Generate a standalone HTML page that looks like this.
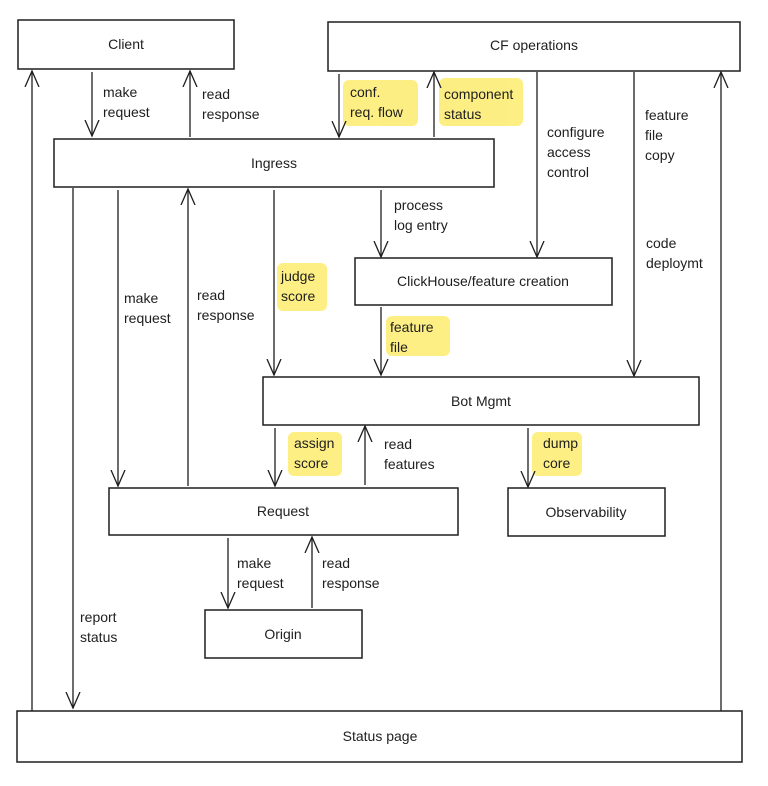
<!DOCTYPE html>
<html><head><meta charset="utf-8"><style>
html,body{margin:0;padding:0;background:#fff;}
svg{display:block;}
text{font-family:"Liberation Sans",sans-serif;font-size:14px;fill:#1e1e1e;}
</style></head><body>
<svg width="768" height="786" viewBox="0 0 768 786" xmlns="http://www.w3.org/2000/svg">
<defs>
<marker id="a" markerWidth="20" markerHeight="20" refX="16" refY="10" orient="auto" markerUnits="userSpaceOnUse">
<path d="M0,3 L16,10 L0,17" fill="none" stroke="#1e1e1e" stroke-width="1.3"/>
</marker>
</defs>
<g fill="#fdec6f" opacity="0.85">
<rect x="343" y="80" width="75" height="46" rx="6"/>
<rect x="439" y="78" width="84" height="48" rx="6"/>
<rect x="277" y="263" width="50" height="48" rx="6"/>
<rect x="386" y="316" width="64" height="40" rx="6"/>
<rect x="288" y="432" width="54" height="44" rx="6"/>
<rect x="532" y="432" width="50" height="44" rx="6"/>
</g>
<g fill="#fff" stroke="#1e1e1e" stroke-width="1.5">
<rect x="18" y="20" width="216" height="49"/>
<rect x="328" y="22" width="412" height="49"/>
<rect x="54" y="139" width="440" height="48"/>
<rect x="355" y="258" width="257" height="47"/>
<rect x="263" y="377" width="436" height="48"/>
<rect x="109" y="488" width="349" height="47"/>
<rect x="508" y="488" width="157" height="48"/>
<rect x="205" y="610" width="157" height="48"/>
<rect x="17" y="711" width="725" height="51"/>
</g>
<g text-anchor="middle">
<text x="126" y="49">Client</text>
<text x="534" y="50">CF operations</text>
<text x="274" y="168">Ingress</text>
<text x="483" y="286">ClickHouse/feature creation</text>
<text x="481" y="406">Bot Mgmt</text>
<text x="283" y="516">Request</text>
<text x="586" y="517">Observability</text>
<text x="283" y="639">Origin</text>
<text x="380" y="741">Status page</text>
</g>
<g stroke="#1e1e1e" stroke-width="1.3" fill="none" marker-end="url(#a)">
<line x1="32" y1="711" x2="32" y2="71"/>
<line x1="92" y1="72" x2="92" y2="136"/>
<line x1="190" y1="137" x2="190" y2="71"/>
<line x1="339" y1="74" x2="339" y2="137"/>
<line x1="434" y1="137" x2="434" y2="72"/>
<line x1="537" y1="72" x2="537" y2="257"/>
<line x1="634" y1="72" x2="634" y2="376"/>
<line x1="721" y1="711" x2="721" y2="72"/>
<line x1="73" y1="188" x2="73" y2="708"/>
<line x1="118" y1="190" x2="118" y2="486"/>
<line x1="188" y1="486" x2="188" y2="189"/>
<line x1="274" y1="190" x2="274" y2="375"/>
<line x1="381" y1="190" x2="381" y2="257"/>
<line x1="381" y1="307" x2="381" y2="375"/>
<line x1="275" y1="428" x2="275" y2="486"/>
<line x1="365" y1="485" x2="365" y2="426"/>
<line x1="528" y1="428" x2="528" y2="487"/>
<line x1="228" y1="538" x2="228" y2="608"/>
<line x1="312" y1="608" x2="312" y2="537"/>
</g>
<text x="103" y="97">make</text><text x="103" y="117">request</text>
<text x="202" y="99">read</text><text x="202" y="119">response</text>
<text x="350" y="97">conf.</text><text x="350" y="117">req. flow</text>
<text x="444" y="99">component</text><text x="444" y="119">status</text>
<text x="547" y="137">configure</text><text x="547" y="157">access</text><text x="547" y="177">control</text>
<text x="645" y="120">feature</text><text x="645" y="140">file</text><text x="645" y="160">copy</text>
<text x="646" y="248">code</text><text x="646" y="268">deploymt</text>
<text x="394" y="210">process</text><text x="394" y="230">log entry</text>
<text x="124" y="303">make</text><text x="124" y="323">request</text>
<text x="197" y="300">read</text><text x="197" y="320">response</text>
<text x="281" y="281">judge</text><text x="281" y="301">score</text>
<text x="390" y="332">feature</text><text x="390" y="352">file</text>
<text x="294" y="448">assign</text><text x="294" y="468">score</text>
<text x="384" y="449">read</text><text x="384" y="469">features</text>
<text x="543" y="448">dump</text><text x="543" y="468">core</text>
<text x="237" y="568">make</text><text x="237" y="588">request</text>
<text x="322" y="568">read</text><text x="322" y="588">response</text>
<text x="80" y="622">report</text><text x="80" y="642">status</text>
</svg>
</body></html>
